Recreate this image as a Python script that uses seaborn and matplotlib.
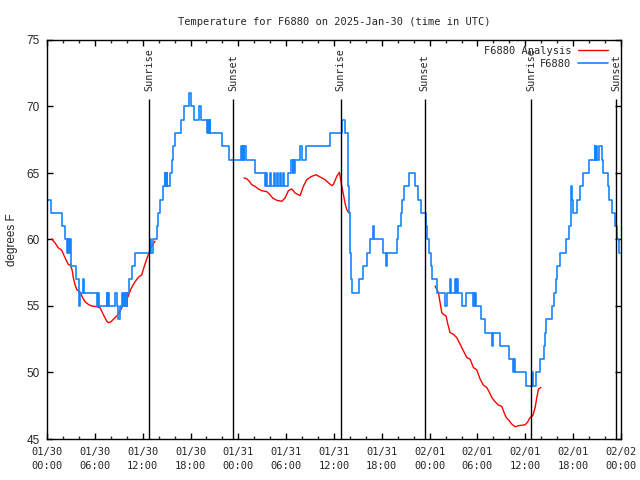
import numpy as np
import pandas as pd
import matplotlib
matplotlib.use("Agg")
import matplotlib.pyplot as plt
from matplotlib.lines import Line2D
import seaborn as sns

# ---------------- data ----------------
title = "Temperature for F6880 on 2025-Jan-30 (time in UTC)"
ylabel = "degrees F"
obs_name = "F6880"
ana_name = "F6880 Analysis"

tick_hours = [0, 6, 12, 18, 24, 30, 36, 42, 48, 54, 60, 66, 72]
tick_labels = ["01/30\n00:00", "01/30\n06:00", "01/30\n12:00", "01/30\n18:00",
               "01/31\n00:00", "01/31\n06:00", "01/31\n12:00", "01/31\n18:00",
               "02/01\n00:00", "02/01\n06:00", "02/01\n12:00", "02/01\n18:00",
               "02/02\n00:00"]
y_ticks = [45, 50, 55, 60, 65, 70, 75]

sunrise_hours = [12.8, 36.85, 60.77]
sunset_hours = [23.38, 47.39, 71.39]

# observed temperatures (integer deg F, held until next sample)
obs_hours = [0.15, 0.5, 1.92, 2.2, 2.55, 2.65, 2.75, 2.85, 2.95, 3.0, 3.64, 4.0, 4.05, 4.15,
             4.55, 4.68, 6.23, 6.45, 6.55, 7.49, 7.55, 7.65, 7.75, 8.53, 8.74, 8.95, 9.2,
             9.4, 9.5, 9.65, 9.75, 9.9, 10.0, 10.05, 10.3, 10.6, 11.1, 12.9, 13.1, 13.25,
             13.76, 13.97, 14.18, 14.5, 14.75, 14.85, 15.0, 15.1, 15.43, 15.62, 15.81, 16.06,
             16.8, 17.2, 17.8, 18.07, 18.44, 19.07, 19.3, 20.08, 20.2, 20.3, 20.4, 20.5,
             21.9, 22.8, 24.33, 24.45, 24.55, 24.65, 24.75, 24.95, 26.1, 27.4, 27.5, 27.6,
             28.0, 28.15, 28.5, 28.65, 28.85, 29.0, 29.2, 29.35, 29.6, 29.75, 30.24, 30.6,
             30.8, 30.9, 31.0, 31.1, 31.75, 31.95, 32.55, 35.45, 37.0, 37.4, 37.7, 37.8,
             37.9, 38.0, 38.1, 38.23, 39.19, 39.69, 40.19, 40.53, 40.86, 41.07, 42.2, 42.5,
             42.7, 43.87, 44.04, 44.37, 44.58, 44.8, 45.38, 46.17, 46.5, 46.88, 47.55, 47.72,
             47.93, 48.14, 48.35, 48.97, 49.94, 50.15, 50.6, 50.7, 51.15, 51.25, 51.45, 51.6,
             52.1, 52.57, 53.4, 53.5, 53.6, 53.7, 53.8, 54.42, 54.96, 55.8, 55.9, 56.84,
             58.0, 58.5, 58.6, 58.75, 60.1, 60.8, 60.9, 61.35, 61.85, 62.3, 62.45, 62.6,
             63.3, 63.55, 63.8, 64.0, 64.3, 65.1, 65.5, 65.7, 65.85, 65.97, 66.45, 66.9,
             67.25, 67.95, 68.7, 68.8, 68.9, 69.0, 69.3, 69.65, 69.8, 70.35, 70.55, 70.9,
             71.2, 71.5, 71.8, 71.9]
obs_temps = [63, 62, 61, 60, 59, 60, 59, 60, 59, 58, 57, 56, 55, 56,
             57, 56, 55, 56, 55, 56, 55, 56, 55, 56, 55, 54, 55,
             56, 55, 56, 55, 56, 55, 56, 57, 58, 59, 60, 59, 60,
             61, 62, 63, 64, 65, 64, 65, 64, 65, 66, 67, 68,
             69, 70, 71, 70, 69, 70, 69, 68, 69, 68, 69, 68,
             67, 66, 67, 66, 67, 66, 67, 66, 65, 64, 65, 64,
             65, 64, 65, 64, 65, 64, 65, 64, 65, 64, 65, 66,
             65, 66, 65, 66, 67, 66, 67, 68, 69, 68, 66, 64,
             62, 59, 57, 56, 57, 58, 59, 60, 61, 60, 59, 58,
             59, 60, 61, 62, 63, 64, 65, 64, 63, 62, 61, 60,
             59, 58, 57, 56, 55, 56, 57, 56, 57, 56, 57, 56,
             55, 56, 55, 56, 55, 56, 55, 54, 53, 52, 53, 52,
             51, 50, 51, 50, 49, 50, 49, 50, 51, 52, 53, 54,
             55, 56, 57, 58, 59, 60, 61, 64, 63, 62, 63, 64,
             65, 66, 67, 66, 67, 66, 67, 66, 65, 64, 63, 62,
             61, 60, 59, 59]

# analysis temperatures (three separate segments)
ana1_hours = [0.59, 1.0, 1.42, 1.84, 2.13, 2.47, 2.68, 2.97, 3.18, 3.3, 3.51, 3.72, 4.14,
              4.48, 4.77, 5.19, 5.6, 6.23, 6.65, 6.86, 7.15, 7.49, 7.7, 7.99, 8.32, 8.66,
              8.95, 9.16, 9.37, 9.79, 10.2, 10.5, 10.83, 11.25, 11.54, 11.88, 12.08, 12.42,
              12.71, 13.0, 13.26, 13.55]
ana1_temps = [60.05, 59.75, 59.37, 59.2, 58.8, 58.37, 58.12, 58.05, 57.63, 57.12, 56.62,
              56.25, 56.05, 55.62, 55.32, 55.12, 55.0, 54.95, 54.87, 54.62, 54.25, 53.87,
              53.75, 53.8, 54.0, 54.2, 54.37, 54.62, 54.87, 55.25, 55.75, 56.25, 56.62,
              57.0, 57.2, 57.33, 57.75, 58.37, 58.87, 59.37, 59.62, 59.87]
ana2_hours = [24.72, 25.05, 25.38, 25.68, 26.1, 26.51, 26.93, 27.56, 27.98, 28.3, 28.82,
              29.44, 29.86, 30.28, 30.7, 31.12, 31.74, 32.16, 32.58, 33.21, 33.75, 34.25,
              34.88, 35.42, 35.72, 35.93, 36.35, 36.68, 36.97, 37.18, 37.39, 37.6, 37.8,
              38.02]
ana2_temps = [64.62, 64.57, 64.37, 64.12, 64.0, 63.8, 63.67, 63.6, 63.37, 63.12, 62.95,
              62.87, 63.12, 63.67, 63.8, 63.5, 63.3, 64.0, 64.5, 64.75, 64.87, 64.7,
              64.5, 64.2, 64.05, 64.15, 64.75, 65.05, 64.0, 63.4, 62.7, 62.25, 62.05,
              62.0]
ana3_hours = [48.68, 49.1, 49.31, 49.52, 49.72, 50.06, 50.23, 50.56, 50.98, 51.4, 51.82,
              52.24, 52.66, 53.07, 53.49, 53.91, 54.33, 54.74, 55.16, 55.5, 55.79, 56.21,
              56.63, 57.05, 57.25, 57.59, 57.88, 58.3, 58.72, 59.13, 59.97, 60.26, 60.6,
              60.93, 61.23, 61.44, 61.65, 61.95]
ana3_temps = [56.5, 56.0, 55.25, 54.5, 54.37, 54.25, 53.75, 53.0, 52.87, 52.62, 52.12,
              51.62, 51.12, 51.0, 50.37, 50.2, 49.5, 49.05, 48.87, 48.5, 48.12, 47.8,
              47.55, 47.45, 47.12, 46.62, 46.45, 46.12, 45.92, 46.0, 46.07, 46.25, 46.62,
              46.75, 47.37, 48.12, 48.75, 48.87]

# ---------------- style ----------------
BLUE = "#1684ff"
RED = "#ff0000"
MONO = ["DejaVu Sans Mono"]
SANS = ["Liberation Sans", "DejaVu Sans"]

sns.set_style("ticks")
plt.rcParams["font.family"] = MONO
plt.rcParams["axes.linewidth"] = 1.0

fig = plt.figure(figsize=(6.4, 4.8), dpi=100)
ax = fig.add_axes([47 / 640, 1 - 439 / 480, 574 / 640, 399 / 480])

ana_df = pd.concat([
    pd.DataFrame({"hour": ana1_hours, "temp": ana1_temps, "seg": 1}),
    pd.DataFrame({"hour": ana2_hours, "temp": ana2_temps, "seg": 2}),
    pd.DataFrame({"hour": ana3_hours, "temp": ana3_temps, "seg": 3}),
], ignore_index=True)
obs_df = pd.DataFrame({"hour": obs_hours, "temp": obs_temps})

sns.lineplot(data=ana_df, x="hour", y="temp", units="seg", estimator=None,
             sort=False, color=RED, lw=1.0, ax=ax, legend=False)
sns.lineplot(data=obs_df, x="hour", y="temp", estimator=None, sort=False,
             color=BLUE, lw=1.2, drawstyle="steps-post", ax=ax, legend=False)

# sunrise / sunset markers
ax.vlines(sunrise_hours + sunset_hours, 45, 70.6, color="black", lw=1.0)
for h in sunrise_hours:
    ax.text(h, 71.15, "Sunrise", rotation=90, ha="center", va="bottom",
            fontsize=7.3, family=MONO)
for h in sunset_hours:
    ax.text(h, 71.15, "Sunset", rotation=90, ha="center", va="bottom",
            fontsize=7.3, family=MONO)

ax.set_xlim(0, 72)
ax.set_ylim(45, 75)
ax.set_xticks(tick_hours)
ax.set_xticklabels(tick_labels, family=MONO, fontsize=7.5)
ax.set_xticks(np.arange(0, 73, 2), minor=True)
ax.set_yticks(y_ticks)
ax.set_yticklabels([str(v) for v in y_ticks], family=SANS, fontsize=8.5)
for lbl in ax.get_xticklabels():
    lbl.set_linespacing(1.45)

ax.tick_params(axis="both", which="major", direction="in", top=True, right=True,
               length=4, width=1.0, pad=5, color="black")
ax.tick_params(axis="x", which="major", pad=6)
ax.tick_params(axis="x", which="minor", direction="in", top=True, bottom=True,
               length=2.2, width=1.0)
ax.tick_params(axis="y", which="minor", left=False, right=False)
for s in ax.spines.values():
    s.set_color("black")
    s.set_visible(True)

ax.set_xlabel("")
ax.set_ylabel(ylabel, family=SANS, fontsize=8.5, labelpad=6)
ax.set_title(title, family=MONO, fontsize=7.5, pad=11)

handles = [Line2D([], [], color=RED, lw=1.0), Line2D([], [], color=BLUE, lw=1.2)]
ax.legend(handles, [ana_name, obs_name], loc="upper right",
          bbox_to_anchor=(0.987, 1.0), frameon=False,
          markerfirst=False, prop={"family": MONO, "size": 7.5},
          handlelength=2.9, handletextpad=0.6, labelspacing=0.3,
          borderaxespad=0.0, borderpad=0.55)

fig.savefig("out.png", dpi=100)
